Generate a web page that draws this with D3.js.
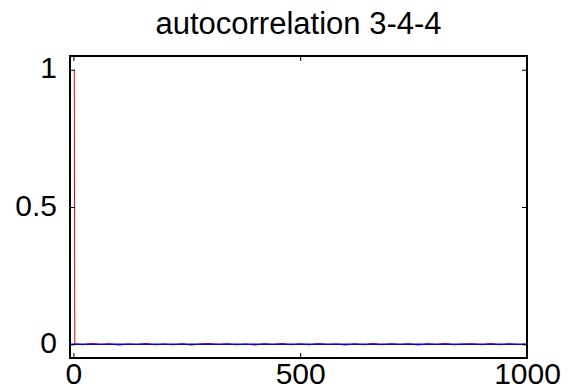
<!DOCTYPE html>
<html>
<head>
<meta charset="utf-8">
<script src="https://cdn.jsdelivr.net/npm/d3@7"></script>
<style>
  html, body { margin: 0; padding: 0; background: #fff; }
  svg { display: block; font-family: "Liberation Sans", Arial, Helvetica, sans-serif; }
</style>
</head>
<body>
<script>
// ---- data ----
const titleText = "autocorrelation 3-4-4";
const xTicks = [0, 500, 1000];
const yTicks = [0, 0.5, 1];
// autocorrelation estimate (red): spike at lag ~0, then small noise around zero
const redLags = [2, 3, 20, 40, 60, 80, 100, 120, 140, 160, 180, 200, 220, 240, 260, 280, 300, 320, 340, 360, 380, 400, 420, 440, 460, 480, 500, 520, 540, 560, 580, 600, 620, 640, 660, 680, 700, 720, 740, 760, 780, 800, 820, 840, 860, 880, 900, 920, 940, 960, 980, 1000];
const redValues = [1, 0.002, -0.002, 0.003, -0.001, 0.002, -0.003, 0.001, -0.001, 0.003, -0.002, 0.001, -0.002, 0.002, -0.003, 0.001, 0.003, -0.001, 0.002, -0.002, 0.001, -0.003, 0.002, -0.001, 0.003, -0.002, 0.002, -0.002, 0.003, -0.001, 0.001, -0.003, 0.002, -0.002, 0.003, -0.002, 0.002, -0.001, 0.002, -0.003, 0.002, -0.001, 0.003, -0.002, 0.001, 0.002, -0.002, 0.003, -0.002, 0.002, -0.001, 0.001];
// reference line (blue) at zero across the lag range
const blueLags = [-7.5, 1000];
const blueValues = [0, 0];

// ---- layout ----
const W = 568, H = 390;
const mLeft = 70, mRight = 527, mTop = 56, mBottom = 358;

const svg = d3.select("body").append("svg").attr("width", W).attr("height", H);

const x = d3.scaleLinear().domain([-7.5, 1000]).range([mLeft, mRight]);
const y = d3.scaleLinear().domain([-0.05, 1.05]).range([mBottom, mTop]);

const line = d3.line().x(d => x(d[0])).y(d => y(d[1]));

svg.append("clipPath").attr("id", "clip")
  .append("rect").attr("x", mLeft).attr("y", mTop).attr("width", mRight - mLeft).attr("height", mBottom - mTop);

const plot = svg.append("g").attr("clip-path", "url(#clip)");
plot.append("path")
  .datum(redLags.map((l, i) => [l, redValues[i]]))
  .attr("d", line).attr("fill", "none").attr("stroke", "#ff0000").attr("stroke-width", 1);
plot.append("path")
  .datum(blueLags.map((l, i) => [l, blueValues[i]]))
  .attr("d", line).attr("fill", "none").attr("stroke", "#0000ff").attr("stroke-width", 1.6);

// axes (inward ticks, MATLAB-like)
const fontSize = 30;
const axB = d3.axisBottom(x).tickValues(xTicks).tickSizeInner(-5).tickSizeOuter(0).tickPadding(5).tickFormat(d3.format("d"));
const axT = d3.axisTop(x).tickValues(xTicks).tickSizeInner(-5).tickSizeOuter(0).tickFormat("");
const axL = d3.axisLeft(y).tickValues(yTicks).tickSizeInner(-5).tickSizeOuter(0).tickPadding(13).tickFormat(d3.format("~g"));
const axR = d3.axisRight(y).tickValues(yTicks).tickSizeInner(-5).tickSizeOuter(0).tickFormat("");

function style(g) {
  g.select(".domain").remove();
  g.selectAll(".tick line").attr("stroke", "#000").attr("stroke-width", 1);
  g.selectAll(".tick text").attr("fill", "#000").attr("font-size", fontSize)
    .attr("font-family", "'Liberation Sans', Arial, Helvetica, sans-serif");
}
const gB = svg.append("g").attr("transform", `translate(0,${mBottom})`).call(axB).call(style);
gB.selectAll(".tick text").attr("dy", "0.71em");
svg.append("g").attr("transform", `translate(0,${mTop})`).call(axT).call(style);
const gL = svg.append("g").attr("transform", `translate(${mLeft},0)`).call(axL).call(style);
gL.selectAll(".tick text").attr("dy", "0.27em");
svg.append("g").attr("transform", `translate(${mRight},0)`).call(axR).call(style);

// frame
svg.append("rect").attr("x", mLeft).attr("y", mTop).attr("width", mRight - mLeft).attr("height", mBottom - mTop)
  .attr("fill", "none").attr("stroke", "#000").attr("stroke-width", 2);

// title
svg.append("text").attr("x", (mLeft + mRight) / 2).attr("y", 34).attr("text-anchor", "middle")
  .attr("font-size", 31).attr("fill", "#000").text(titleText);
</script>
</body>
</html>
